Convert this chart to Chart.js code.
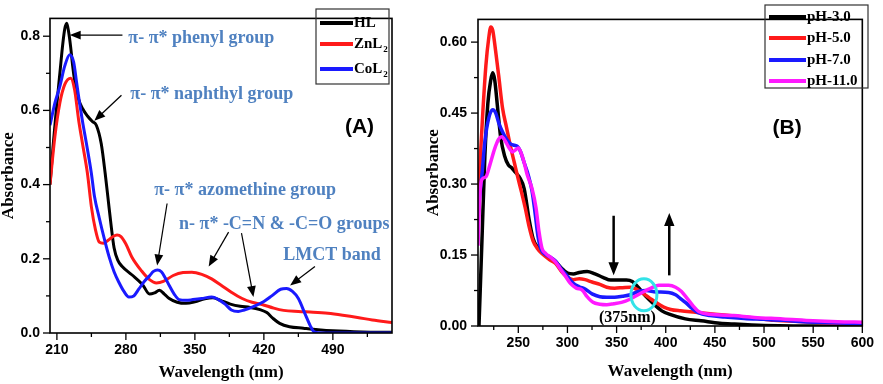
<!DOCTYPE html>
<html>
<head>
<meta charset="utf-8">
<script src="https://cdn.jsdelivr.net/npm/chart.js@4.4.1/dist/chart.umd.min.js"></script>
<style>
  html, body { margin: 0; padding: 0; background: #fff; }
  #wrap { position: relative; width: 883px; height: 384px; }
  canvas { position: absolute; top: 0; }
  #chartA { left: 0; }
  #chartB { left: 420px; }
</style>
</head>
<body>
<div id="wrap">
  <canvas id="chartA" width="420" height="384"></canvas>
  <canvas id="chartB" width="463" height="384"></canvas>
</div>
<script>
// ---- panel (A): ligand HL and its Zn / Co complexes ----
const aLabels = ['HL', 'ZnL_2', 'CoL_2'];
const aColors = ['#000000', '#ff1a1a', '#1a1aff'];

const hlWave = [203,206,209,213,216,218,220,222,224,226,228,232,236,241,246,250,255,259,262,265,268,272,276,286,297,304,309,314,319,324,332,341,350,360,368,376,386,396,406,416,423,429,436,446,460,475,490,520,550];
const hlAbs  = [0.40,0.50,0.59,0.70,0.78,0.82,0.835,0.81,0.77,0.72,0.68,0.63,0.605,0.585,0.57,0.56,0.51,0.43,0.36,0.29,0.23,0.195,0.18,0.157,0.13,0.105,0.108,0.115,0.105,0.093,0.083,0.08,0.084,0.092,0.095,0.088,0.078,0.072,0.069,0.063,0.055,0.04,0.026,0.017,0.013,0.009,0.006,0.003,0.002];

const znWave = [203,208,213,218,224,228,232,236,241,245,249,253,257,262,267,271,275,280,286,296,304,311,318,328,338,347,357,367,377,387,398,408,418,430,440,455,470,485,500,515,530,550];
const znAbs  = [0.40,0.53,0.62,0.67,0.687,0.655,0.575,0.51,0.43,0.34,0.28,0.245,0.242,0.25,0.26,0.264,0.26,0.24,0.205,0.167,0.144,0.135,0.139,0.155,0.163,0.164,0.158,0.146,0.128,0.11,0.093,0.083,0.077,0.067,0.061,0.058,0.056,0.053,0.048,0.042,0.035,0.028];

const coWave = [203,208,213,218,223,227,230,233,236,240,245,248,253,258,263,268,273,278,283,288,293,299,304,308,312,316,320,324,329,334,341,348,357,367,374,381,387,394,400,410,420,428,437,443,449,455,462,467,471,480,550];
const coAbs  = [0.56,0.62,0.665,0.72,0.75,0.73,0.675,0.62,0.57,0.51,0.43,0.37,0.31,0.255,0.205,0.165,0.136,0.112,0.097,0.1,0.118,0.14,0.154,0.166,0.17,0.165,0.148,0.128,0.105,0.09,0.088,0.09,0.093,0.097,0.09,0.077,0.062,0.058,0.062,0.072,0.085,0.1,0.118,0.12,0.112,0.093,0.05,0.02,0.003,0,0];

const aXTicks = [210,245,280,315,350,385,420,455,490,525];
const aXLabels = [210,280,350,420,490];
const aYTicks = [0,0.1,0.2,0.3,0.4,0.5,0.6,0.7,0.8];
const aYLabels = [0,0.2,0.4,0.6,0.8];

// ---- panel (B): pH dependence ----
const bLabels = ['pH-3.0', 'pH-5.0', 'pH-7.0', 'pH-11.0'];
const bColors = ['#000000', '#ff1a1a', '#1a1aff', '#ff1aff'];

const ph3Wave = [210,213,216,219,222,224,226,229,232,236,240,243,247,251,256,261,265,270,276,282,288,294,300,306,312,320,328,336,344,352,360,366,372,380,388,396,405,420,436,455,470,500,530,600];
const ph3Abs  = [0,0.18,0.36,0.47,0.52,0.535,0.52,0.46,0.4,0.36,0.34,0.335,0.325,0.315,0.29,0.225,0.185,0.165,0.153,0.145,0.136,0.122,0.112,0.11,0.113,0.115,0.11,0.103,0.097,0.097,0.097,0.094,0.082,0.062,0.046,0.032,0.024,0.015,0.011,0.006,0.004,0.001,0,0];

const ph5Wave = [209,212,214,217,220,222,224,227,230,234,238,242,246,250,253,257,261,265,269,274,282,288,294,300,306,312,318,325,333,340,348,356,364,370,376,383,390,398,405,415,430,450,470,490,510,540,570,600];
const ph5Abs  = [0.26,0.38,0.455,0.55,0.61,0.632,0.625,0.58,0.53,0.46,0.42,0.38,0.345,0.31,0.285,0.25,0.21,0.18,0.165,0.153,0.14,0.132,0.115,0.103,0.098,0.1,0.098,0.093,0.088,0.082,0.08,0.081,0.082,0.078,0.07,0.06,0.05,0.04,0.035,0.032,0.029,0.025,0.021,0.017,0.012,0.009,0.006,0.004];

const ph7Wave = [209,213,216,220,224,227,230,234,238,242,246,249,252,256,260,264,267,270,273,277,283,288,294,300,306,312,318,325,333,340,348,356,364,372,380,390,403,410,415,420,428,433,445,460,480,500,520,540,570,600];
const ph7Abs  = [0.24,0.32,0.39,0.44,0.457,0.45,0.43,0.41,0.395,0.385,0.382,0.38,0.37,0.345,0.32,0.285,0.24,0.19,0.163,0.152,0.145,0.137,0.12,0.105,0.09,0.083,0.078,0.068,0.062,0.061,0.061,0.063,0.066,0.073,0.075,0.072,0.071,0.066,0.058,0.05,0.035,0.028,0.022,0.019,0.016,0.014,0.012,0.009,0.007,0.005];

const ph11Wave = [209,211,213,217,221,226,230,233,237,241,244,247,250,253,256,259,264,268,271,274,278,283,288,293,298,303,309,315,320,326,333,340,347,355,363,370,377,385,393,403,410,416,422,428,434,445,469,490,519,550,575,600];
const ph11Abs  = [0.17,0.28,0.31,0.315,0.34,0.375,0.395,0.40,0.39,0.375,0.368,0.372,0.376,0.365,0.345,0.32,0.29,0.25,0.2,0.165,0.153,0.145,0.135,0.12,0.105,0.09,0.08,0.076,0.062,0.05,0.046,0.045,0.047,0.05,0.056,0.064,0.072,0.08,0.086,0.086,0.082,0.073,0.058,0.042,0.03,0.025,0.022,0.018,0.015,0.011,0.009,0.008];

const bXTicks = [225,250,275,300,325,350,375,400,425,450,475,500,525,550,575,600];
const bXLabels = [250,300,350,400,450,500,550,600];
const bYTicks = [0,0.075,0.15,0.225,0.3,0.375,0.45,0.525,0.6];
const bYLabels = [0,0.15,0.3,0.45,0.6];

const SERIF = '"Liberation Serif", "Times New Roman", serif';
const SANS = '"Liberation Sans", Arial, sans-serif';
const NOTE = '#4f81c0';

function points(xs, ys) {
  return xs.map((x, i) => ({ x: x, y: ys[i] }));
}

function series(label, xs, ys, color, order, width) {
  return {
    label: label,
    data: points(xs, ys),
    borderColor: color,
    backgroundColor: color,
    borderWidth: width,
    pointRadius: 0,
    cubicInterpolationMode: 'monotone',
    borderJoinStyle: 'round',
    fill: false,
    order: order
  };
}

function axis(min, max, all, labelled, digits, title, size, tickPad, titlePad) {
  return {
    type: 'linear',
    min: min,
    max: max,
    grid: { display: false, drawTicks: false },
    border: { display: false },
    afterBuildTicks: s => { s.ticks = all.map(v => ({ value: v })); },
    afterFit: s => { if (s.isHorizontal()) s.height = size; else s.width = size; },
    ticks: {
      autoSkip: false,
      maxRotation: 0,
      padding: tickPad,
      color: '#000',
      font: { family: SANS, size: 14, weight: 'bold' },
      callback: v => labelled.includes(v) ? v.toFixed(digits) : ''
    },
    title: {
      display: true,
      text: title,
      color: '#000',
      font: { family: SERIF, size: 17, weight: 'bold', lineHeight: 1 },
      padding: titlePad
    }
  };
}

function line(ctx, x1, y1, x2, y2) {
  ctx.beginPath();
  ctx.moveTo(x1, y1);
  ctx.lineTo(x2, y2);
  ctx.stroke();
}

function arrow(ctx, x1, y1, x2, y2, w, head) {
  const a = Math.atan2(y2 - y1, x2 - x1);
  const c = Math.cos(a), s = Math.sin(a);
  ctx.lineWidth = w;
  line(ctx, x1, y1, x2 - c * head * 0.7, y2 - s * head * 0.7);
  ctx.beginPath();
  ctx.moveTo(x2, y2);
  ctx.lineTo(x2 - head * c + head * 0.4 * s, y2 - head * s - head * 0.4 * c);
  ctx.lineTo(x2 - head * c - head * 0.4 * s, y2 - head * s + head * 0.4 * c);
  ctx.closePath();
  ctx.fill();
}

// box around the plot, tick marks, legend and notes
const decor = {
  id: 'decor',
  afterDraw(chart, args, o) {
    const { ctx, chartArea: a, scales } = chart;
    const X = v => scales.x.getPixelForValue(v);
    const Y = v => scales.y.getPixelForValue(v);
    ctx.save();
    ctx.strokeStyle = '#000';
    ctx.fillStyle = '#000';
    ctx.lineWidth = 1.6;
    ctx.strokeRect(a.left, a.top, a.right - a.left, a.bottom - a.top);
    ctx.lineWidth = 1.3;
    o.xTicks.forEach(v => {
      const len = o.xMajor.includes(v) ? 7 : 4;
      line(ctx, X(v), a.bottom, X(v), a.bottom + len);
    });
    o.yTicks.forEach(v => {
      const len = o.yMajor.includes(v) ? 7 : 4;
      line(ctx, a.left, Y(v), a.left - len, Y(v));
    });

    // legend
    const L = o.legend;
    ctx.lineWidth = 1.2;
    ctx.strokeStyle = '#333';
    ctx.strokeRect(L.x, L.y, L.w, L.h);
    ctx.textBaseline = 'middle';
    ctx.textAlign = 'left';
    chart.data.datasets.forEach((d, i) => {
      const y = L.rows[i];
      ctx.strokeStyle = d.borderColor;
      ctx.lineWidth = 4;
      line(ctx, L.x + 4, y, L.x + 4 + L.len, y);
      const parts = d.label.split('_');
      ctx.fillStyle = '#000';
      ctx.font = 'bold ' + L.font + 'px ' + SERIF;
      ctx.fillText(parts[0], L.x + 5 + L.len, y);
      if (parts[1]) {
        const w = ctx.measureText(parts[0]).width;
        ctx.font = 'bold ' + Math.round(L.font * 0.6) + 'px ' + SERIF;
        ctx.fillText(parts[1], L.x + 6 + L.len + w, y + 6);
      }
    });

    // notes
    o.notes.forEach(n => {
      ctx.fillStyle = n.color || '#000';
      ctx.strokeStyle = n.color || '#000';
      if (n.text) {
        ctx.font = n.font;
        ctx.textAlign = n.align || 'left';
        ctx.textBaseline = 'middle';
        ctx.fillText(n.text, X(n.x), Y(n.y));
      } else if (n.to) {
        arrow(ctx, X(n.x), Y(n.y), X(n.to[0]), Y(n.to[1]), n.w, n.head);
      } else if (n.rx) {
        ctx.lineWidth = n.w;
        ctx.beginPath();
        ctx.ellipse(X(n.x), Y(n.y), n.rx, n.ry, 0, 0, Math.PI * 2);
        ctx.stroke();
      }
    });
    ctx.restore();
  }
};

const noteFont = 'bold 18px ' + SERIF;

new Chart(document.getElementById('chartA'), {
  type: 'line',
  data: {
    datasets: [
      series(aLabels[0], hlWave, hlAbs, aColors[0], 3, 3),
      series(aLabels[1], znWave, znAbs, aColors[1], 2, 3),
      series(aLabels[2], coWave, coAbs, aColors[2], 1, 3)
    ]
  },
  options: {
    responsive: false,
    animation: false,
    layout: { padding: { top: 2, right: 28, left: 0, bottom: 0 } },
    scales: {
      x: axis(203, 550, aXTicks, aXLabels, 0, 'Wavelength (nm)', 51, 9, { top: 0, bottom: 3 }),
      y: axis(0, 0.848, aYTicks, aYLabels, 1, 'Absorbance', 50, 10, { top: 0, bottom: 0 })
    },
    plugins: {
      legend: { display: false },
      tooltip: { enabled: false },
      decor: {
        xTicks: aXTicks, xMajor: aXLabels, yTicks: aYTicks, yMajor: aYLabels,
        legend: { x: 316, y: 9, w: 73, h: 75, rows: [23, 44, 69], len: 33, font: 15 },
        notes: [
          { text: 'π- π* phenyl group', x: 282.5, y: 0.795, font: noteFont, color: NOTE },
          { x: 276.5, y: 0.803, to: [223, 0.803], w: 1.2, head: 11 },
          { text: 'π- π* naphthyl group', x: 284.5, y: 0.644, font: noteFont, color: NOTE },
          { x: 275.5, y: 0.641, to: [248, 0.572], w: 1.2, head: 11 },
          { text: '(A)', x: 517, y: 0.554, font: 'bold 21px ' + SANS, align: 'center' },
          { text: 'π- π* azomethine group', x: 308.7, y: 0.385, font: noteFont, color: NOTE },
          { x: 321.8, y: 0.349, to: [311.7, 0.182], w: 1.2, head: 11 },
          { text: 'n- π* -C=N & -C=O groups', x: 333.9, y: 0.292, font: noteFont, color: NOTE },
          { x: 384.2, y: 0.272, to: [364, 0.179], w: 1.2, head: 11 },
          { x: 397.3, y: 0.269, to: [409.4, 0.097], w: 1.2, head: 11 },
          { text: 'LMCT band', x: 439.6, y: 0.208, font: noteFont, color: NOTE },
          { x: 471.8, y: 0.179, to: [446.6, 0.128], w: 1.2, head: 11 }
        ]
      }
    }
  },
  plugins: [decor]
});

new Chart(document.getElementById('chartB'), {
  type: 'line',
  data: {
    datasets: [
      series(bLabels[0], ph3Wave, ph3Abs, bColors[0], 4, 3.5),
      series(bLabels[1], ph5Wave, ph5Abs, bColors[1], 3, 3.5),
      series(bLabels[2], ph7Wave, ph7Abs, bColors[2], 2, 3.5),
      series(bLabels[3], ph11Wave, ph11Abs, bColors[3], 1, 3.5)
    ]
  },
  options: {
    responsive: false,
    animation: false,
    layout: { padding: { top: 4, right: 11, left: 0, bottom: 0 } },
    scales: {
      x: axis(209, 600, bXTicks, bXLabels, 0, 'Wavelength (nm)', 58, 9, { top: 0, bottom: 4 }),
      y: axis(0, 0.648, bYTicks, bYLabels, 2, 'Absorbance', 58, 11, { top: 5, bottom: 0 })
    },
    plugins: {
      legend: { display: false },
      tooltip: { enabled: false },
      decor: {
        xTicks: bXTicks, xMajor: bXLabels, yTicks: bYTicks, yMajor: bYLabels,
        legend: { x: 345, y: 5, w: 103, h: 83, rows: [17, 38, 60, 81], len: 37, font: 15 },
        notes: [
          { text: '(B)', x: 523.5, y: 0.419, font: 'bold 21px ' + SANS, align: 'center' },
          { x: 347, y: 0.233, to: [347, 0.107], w: 2.5, head: 13 },
          { x: 403.6, y: 0.107, to: [403.6, 0.239], w: 2.5, head: 13 },
          { x: 377.8, y: 0.066, rx: 13, ry: 16, w: 3, color: '#33e3e8' },
          { text: '(375nm)', x: 361, y: 0.018, font: 'bold 16px ' + SERIF, align: 'center' }
        ]
      }
    }
  },
  plugins: [decor]
});
</script>
</body>
</html>
